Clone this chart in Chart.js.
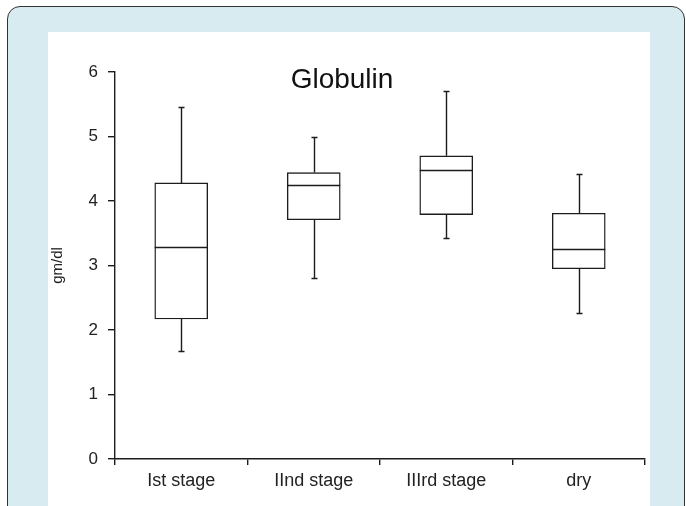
<!DOCTYPE html>
<html>
<head>
<meta charset="utf-8">
<script src="https://cdn.jsdelivr.net/npm/chart.js@4.4.0/dist/chart.umd.min.js"></script>
<style>
  html, body { margin: 0; padding: 0; width: 686px; height: 506px; overflow: hidden; background: #fff; }
  .frame {
    position: absolute; left: 7px; top: 6px; width: 676px; height: 580px;
    border: 1px solid #333; border-radius: 13px; background: #d7ebf1;
  }
  .panel {
    position: absolute; left: 48px; top: 32px; width: 602px; height: 474px; background: #fff;
  }
  canvas { display: block; }
</style>
</head>
<body>
<div class="frame"></div>
<div class="panel"><canvas id="chart" width="602" height="474"></canvas></div>
<script>
// values (gm/dl)
const categories = ['Ist stage', 'IInd stage', 'IIIrd stage', 'dry'];
const mins    = [1.68, 2.80, 3.43, 2.27];
const q1s     = [2.17, 3.71, 3.79, 2.95];
const medians = [3.28, 4.25, 4.48, 3.25];
const q3s     = [4.28, 4.44, 4.70, 3.81];
const maxes   = [5.46, 4.99, 5.70, 4.42];
const yTicks  = [0, 1, 2, 3, 4, 5, 6];

const ink = '#1c1c1c';
const textColor = '#222';
const fontFamily = '"Liberation Sans", Arial, sans-serif';

// median line + whiskers, drawn on top of the boxes
const whiskers = {
    id: 'whiskers',
    afterDatasetsDraw(chart) {
        const ctx = chart.ctx;
        const y = chart.scales.y;
        const meta = chart.getDatasetMeta(0);
        ctx.save();
        ctx.strokeStyle = ink;
        ctx.lineWidth = 1.4;
        meta.data.forEach((bar, i) => {
            const x = Math.round(bar.x) + 0.5;
            const half = bar.width / 2;
            const cap = 3;
            const yMed = Math.round(y.getPixelForValue(medians[i])) + 0.5;
            const yQ1 = y.getPixelForValue(q1s[i]);
            const yQ3 = y.getPixelForValue(q3s[i]);
            const yMin = Math.round(y.getPixelForValue(mins[i])) + 0.5;
            const yMax = Math.round(y.getPixelForValue(maxes[i])) + 0.5;
            ctx.beginPath();
            ctx.moveTo(bar.x - half, yMed);
            ctx.lineTo(bar.x + half, yMed);
            ctx.moveTo(x, yQ3);
            ctx.lineTo(x, yMax);
            ctx.moveTo(x - cap, yMax);
            ctx.lineTo(x + cap, yMax);
            ctx.moveTo(x, yQ1);
            ctx.lineTo(x, yMin);
            ctx.moveTo(x - cap, yMin);
            ctx.lineTo(x + cap, yMin);
            ctx.stroke();
        });
        ctx.restore();
    }
};

// title sits inside the plot area, so it is drawn here instead of by the title plugin
const innerTitle = {
    id: 'innerTitle',
    afterDraw(chart) {
        const ctx = chart.ctx;
        ctx.save();
        ctx.font = '28px ' + fontFamily;
        ctx.fillStyle = '#111';
        ctx.textAlign = 'center';
        ctx.textBaseline = 'alphabetic';
        ctx.fillText('Globulin', 294, 56);
        ctx.restore();
    }
};

new Chart(document.getElementById('chart'), {
    type: 'bar',
    data: {
        labels: categories,
        datasets: [{
            data: q1s.map((q, i) => [q, q3s[i]]),
            backgroundColor: '#fff',
            borderColor: ink,
            borderWidth: 1.4,
            borderSkipped: false,
            barThickness: 53
        }]
    },
    options: {
        responsive: false,
        animation: false,
        events: [],
        layout: { padding: { left: 0, right: 5, top: 40, bottom: 0 } },
        plugins: {
            legend: { display: false },
            tooltip: { enabled: false },
            title: { display: false }
        },
        scales: {
            x: {
                offset: true,
                grid: { offset: true, drawOnChartArea: false, tickLength: 6, color: ink, lineWidth: 1.4 },
                border: { color: ink, width: 1.4 },
                ticks: { color: textColor, font: { family: fontFamily, size: 18 }, padding: 5, maxRotation: 0 },
                afterFit(scale) { scale.height = 47; }
            },
            y: {
                min: 0,
                max: 6,
                afterBuildTicks(scale) { scale.ticks = yTicks.map(v => ({ value: v })); },
                grid: { drawOnChartArea: false, tickLength: 7, color: ink, lineWidth: 1.4 },
                border: { color: ink, width: 1.4 },
                ticks: { color: textColor, font: { family: fontFamily, size: 17 }, padding: 10 },
                title: {
                    display: true,
                    text: 'gm/dl',
                    color: textColor,
                    font: { family: fontFamily, size: 15 },
                    padding: { top: 1, bottom: 0 }
                },
                afterFit(scale) { scale.width = 67; }
            }
        }
    },
    plugins: [whiskers, innerTitle]
});
</script>
</body>
</html>
